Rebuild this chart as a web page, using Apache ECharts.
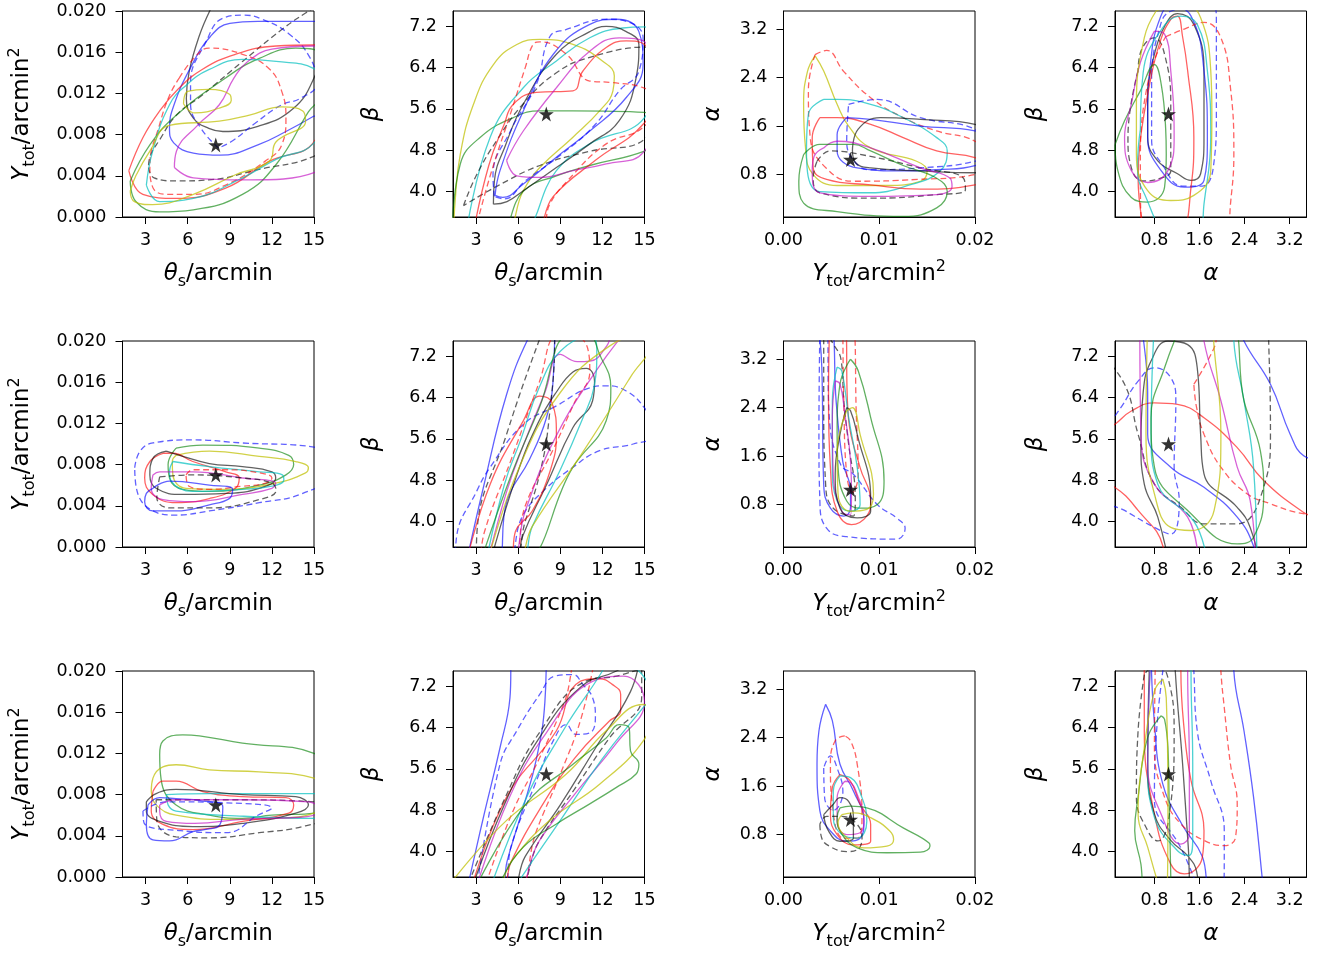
<!DOCTYPE html>
<html>
<head>
<meta charset="utf-8">
<script src="https://cdn.jsdelivr.net/npm/echarts@6/dist/echarts.min.js"></script>
<style>
  html, body { margin: 0; padding: 0; background: #fff; }
  #chart { width: 1325px; height: 956px; }
</style>
</head>
<body>
<div id="chart"></div>
<script>
// ---- tick values -------------------------------------------------------
const THETA_TICKS = [3, 6, 9, 12, 15];
const YTOT_TICKS_V = [0, 0.004, 0.008, 0.012, 0.016, 0.020];
const YTOT_TICKS_H = [0, 0.01, 0.02];
const BETA_TICKS = [4.0, 4.8, 5.6, 6.4, 7.2];
const ALPHA_TICKS = [0.8, 1.6, 2.4, 3.2];

// ---- true parameter values (star marker) -------------------------------
const TRUE_THETA = 8;
const TRUE_YTOT = 0.007;
const TRUE_BETA = 5.5;
const TRUE_ALPHA = 1.05;

// ---- credible-region contours, one entry per sample --------------------
// key: k/b/r/g/c/m/y colour, trailing "d" = dashed estimator
const ytotTheta1 = [
  ['k',  [[7.6,0.0201],[6.8,0.0175],[6.1,0.0141],[5.9,0.0115],[6.4,0.0096],[7.5,0.0086],[8.5,0.0083],[11,0.0088],[13.5,0.0105],[15,0.0135],[16,0.018],[15.5,0.023],[8,0.023]]],
  ['kd', [[3.2,0.0048],[3.6,0.0038],[5.2,0.0035],[7.5,0.0036],[11,0.0046],[15,0.0059],[17,0.008],[17,0.022],[14.4,0.0198],[12.7,0.0182],[9.9,0.0151],[7,0.0118],[5.2,0.0099],[4,0.0075],[3.3,0.0058]]],
  ['b',  [[15,0.0098],[13,0.0083],[11,0.007],[8.3,0.006],[6.4,0.0062],[5,0.0072],[4.7,0.0086],[5.0,0.0108],[6.2,0.0145],[7.6,0.0175],[9,0.0188],[11,0.019],[15,0.019],[17,0.017],[17,0.011]]],
  ['bd', [[8.2,0.0067],[7,0.0085],[6.2,0.011],[6.2,0.013],[7.3,0.017],[8.5,0.0193],[10,0.0196],[11.3,0.0192],[13.2,0.0178],[14.7,0.0155],[15.2,0.013],[14,0.0115],[12.7,0.0109],[10.8,0.0091],[9.2,0.0074]]],
  ['r',  [[1.8,0.0045],[2.8,0.0077],[4,0.0103],[5.3,0.0124],[7,0.0143],[9.4,0.0158],[12.3,0.0166],[15,0.0167],[16.5,0.014],[15,0.0073],[11.8,0.0054],[8.7,0.0028],[5.2,0.0018],[2.8,0.0022]]],
  ['rd', [[5.4,0.0135],[6.5,0.0155],[7.5,0.0164],[9.9,0.0158],[11.8,0.0144],[12.7,0.0122],[13,0.0096],[12.7,0.007],[11.5,0.0054],[8.7,0.0031],[6.4,0.0022],[4.5,0.0022],[3.5,0.0029],[3.3,0.005],[4,0.009],[4.7,0.0118]]],
  ['g',  [[1.9,0.0035],[3.3,0.007],[5.2,0.0099],[8.7,0.0135],[11.1,0.0154],[13.7,0.0164],[15.3,0.016],[15.5,0.012],[14.6,0.0102],[12.3,0.0051],[9.9,0.0022],[6.4,0.0007],[4,0.0005],[2.3,0.0015]]],
  ['c',  [[3.05,0.0031],[3.5,0.0064],[4.7,0.0109],[5.9,0.0128],[7.5,0.0143],[9.9,0.0153],[12.3,0.0151],[15,0.0144],[16.5,0.012],[15,0.0072],[12.3,0.0056],[9.9,0.0038],[6.4,0.0018],[4,0.0015]]],
  ['m',  [[5.05,0.0048],[5.2,0.0064],[6.7,0.0089],[8.25,0.0109],[9.3,0.0135],[10.2,0.015],[12,0.0163],[15,0.0166],[16.5,0.012],[15,0.0043],[9.9,0.0036],[6.4,0.0038]]],
  ['y',  [[5.7,0.011],[6,0.0122],[7.5,0.0124],[9.0,0.0119],[9.1,0.0113],[8.3,0.0106],[6.5,0.0101]]],
  ['y',  [[1.9,0.0025],[2.3,0.004],[3.3,0.0064],[4.7,0.0089],[8.25,0.0093],[10.4,0.0099],[12.7,0.0107],[14.2,0.0103],[14.4,0.0093],[12.3,0.0073],[11.8,0.0054],[9.4,0.0041],[6.4,0.0022],[3.5,0.0012],[2.2,0.0015]]]
];

const betaTheta1 = [
  ['y',  [[1.4,3.2],[1.5,3.8],[1.87,4.72],[2.81,5.69],[4.23,6.46],[5.9,6.85],[7.54,6.95],[9.9,6.85],[12.0,6.53],[12.85,6.24],[12.75,5.95],[11.8,5.56],[9.9,5.05],[7.54,4.46],[6.36,4.01],[4.9,3.2]]],
  ['g',  [[1.3,3.2],[1.87,4.53],[3.3,5.05],[5.65,5.43],[7.54,5.56],[9.9,5.56],[15,5.53],[16,5],[15,4.78],[11.1,4.5],[8.72,4.3],[6.36,4.0],[4.5,3.2]]],
  ['c',  [[2.3,3.2],[4,5.05],[6.36,6.01],[8.72,6.53],[11.1,6.98],[13.45,7.17],[15,7.19],[16,6.5],[15,5.43],[11.1,4.92],[8.72,4.4],[5.9,3.2]]],
  ['k',  [[4.23,3.75],[4.3,4.2],[5.1,4.9],[6.36,5.69],[8.72,6.66],[11.1,7.1],[12.27,7.2],[13.7,7.1],[14.6,6.85],[14.4,6.2],[13.2,5.37],[11.1,4.92],[8.72,4.46],[6.36,4.01],[5.2,3.8]]],
  ['kd', [[2.1,3.72],[3,4.3],[4.5,5.0],[6.36,5.7],[8.72,6.3],[11.1,6.6],[15,6.8],[16,6],[15,5.01],[11,4.77],[7.54,4.5],[4.5,4.1]]],
  ['b',  [[4.35,3.92],[4.7,4.4],[6.36,5.56],[8.5,6.66],[11.1,7.24],[13,7.34],[14.6,7.1],[14.9,6.46],[13.7,5.82],[11.1,5.17],[8.72,4.66],[6.36,4.14],[4.9,3.88]]],
  ['bd', [[4.3,3.9],[4.2,4.3],[5.5,5.2],[7.3,6.08],[8.25,7.0],[9.4,7.14],[12.3,7.34],[13.7,7.3],[14.9,6.98],[14.6,6.33],[13.2,5.95],[11.5,5.3],[9,4.7],[6.5,4.2],[5,3.85]]],
  ['r',  [[2.8,3.2],[3.9,4.5],[5.0,5.3],[5.65,5.69],[7.3,5.92],[9.9,5.95],[10.6,6.33],[12.27,6.79],[13.7,6.92],[15,6.85],[16,6],[14.9,5.3],[11.5,4.6],[8.5,3.9],[7,3.2]]],
  ['rd', [[2.9,3.2],[4,4.3],[5.5,5.55],[6.5,6.4],[7.06,6.85],[7.54,6.9],[9.43,6.66],[11.1,6.14],[12.7,6.11],[14.9,6.01],[16,5.8],[14.9,5.24],[12.27,4.92],[9.5,4.2],[8.25,3.75],[7.5,3.2]]],
  ['m',  [[5.17,4.6],[5.9,4.3],[7.54,4.27],[9.9,4.4],[12.27,4.53],[14.9,4.75],[16,5.8],[14.9,6.92],[13.2,6.98],[11.1,6.72],[8.72,6.01],[6.36,5.17]]]
];

const alphaYtot1 = [
  ['y',  [[0.0033,2.76],[0.0025,2.5],[0.0021,1.96],[0.0023,1.24],[0.0031,0.8],[0.0056,0.62],[0.0108,0.62],[0.0143,0.69],[0.015,0.86],[0.0139,1.02],[0.0091,1.24],[0.0068,1.6],[0.0056,1.96],[0.0042,2.51]]],
  ['rd', [[0.0033,2.78],[0.0045,2.85],[0.0063,2.5],[0.0091,2.07],[0.0125,1.74],[0.016,1.52],[0.02,1.35],[0.022,1.0],[0.02,0.8],[0.014,0.72],[0.0073,0.69],[0.0045,0.9],[0.0028,1.4],[0.0026,2.2]]],
  ['c',  [[0.0042,2.04],[0.0026,1.8],[0.0024,1.2],[0.0025,0.85],[0.0038,0.52],[0.0091,0.5],[0.013,0.62],[0.0163,0.85],[0.0171,1.19],[0.016,1.41],[0.0125,1.74],[0.0091,1.96],[0.0056,2.04]]],
  ['r',  [[0.0038,1.74],[0.003,1.41],[0.0031,0.91],[0.0045,0.72],[0.0091,0.63],[0.0143,0.56],[0.02,0.63],[0.022,0.9],[0.02,1.08],[0.016,1.19],[0.0125,1.41],[0.0091,1.63],[0.0056,1.74]]],
  ['b',  [[0.0066,1.74],[0.0056,1.46],[0.0056,1.19],[0.0077,0.91],[0.0125,0.86],[0.016,0.88],[0.02,0.95],[0.022,1.3],[0.02,1.52],[0.0143,1.6],[0.0091,1.71]]],
  ['bd', [[0.0068,1.96],[0.0098,2.04],[0.0143,1.74],[0.02,1.55],[0.022,1.2],[0.02,1.02],[0.0143,0.91],[0.0091,0.88],[0.0075,1.0],[0.0066,1.35]]],
  ['k',  [[0.0072,1.2],[0.0078,1.55],[0.0101,1.74],[0.0143,1.71],[0.02,1.63],[0.022,1.2],[0.02,0.83],[0.0143,0.86],[0.0091,0.91],[0.0075,1.0]]],
  ['kd', [[0.0035,1.02],[0.0049,1.19],[0.0091,1.1],[0.0143,0.91],[0.0188,0.74],[0.019,0.55],[0.016,0.47],[0.0091,0.41],[0.0038,0.5],[0.0031,0.75]]],
  ['m',  [[0.0042,1.24],[0.0056,1.35],[0.0091,1.24],[0.0143,0.91],[0.0174,0.74],[0.0176,0.6],[0.016,0.47],[0.0091,0.44],[0.0038,0.5],[0.003,0.86],[0.0032,1.1]]],
  ['g',  [[0.0021,1.13],[0.0038,1.3],[0.0073,1.3],[0.0091,1.19],[0.0125,0.95],[0.016,0.74],[0.0171,0.52],[0.016,0.25],[0.0125,0.11],[0.0056,0.19],[0.0021,0.33],[0.0016,0.69]]]
];

const betaAlpha1 = [
  ['k',  [[0.68,6.0],[0.68,5.05],[0.86,4.59],[1.21,4.34],[1.45,4.21],[1.62,4.34],[1.68,5.05],[1.68,6.34],[1.5,7.24],[1.21,7.45],[0.98,7.2],[0.8,6.66]]],
  ['kd', [[0.51,6.34],[0.33,5.05],[0.39,4.46],[0.6,4.2],[0.9,4.25],[1.09,4.4],[1.09,5.69],[0.98,6.66],[0.8,6.98],[0.56,6.72]]],
  ['b',  [[0.68,5.69],[0.68,5.05],[0.92,4.4],[1.33,4.08],[1.68,4.21],[1.74,5.05],[1.68,6.34],[1.45,7.4],[1.09,7.6],[0.86,7.24],[0.74,6.59]]],
  ['bd', [[0.75,6.3],[0.75,5.0],[0.95,4.5],[1.3,4.1],[1.65,4.1],[1.85,4.5],[1.9,5.5],[1.9,7.3],[1.85,7.6],[1.1,7.5],[0.85,7.0]]],
  ['r',  [[0.62,3.2],[0.51,4.27],[0.55,5.0],[0.7,6.0],[0.9,6.9],[1.1,7.35],[1.21,7.4],[1.3,7.0],[1.39,6.34],[1.5,5.05],[1.45,4.08],[1.21,3.2]]],
  ['rd', [[1.0,7.0],[1.33,7.15],[1.68,7.28],[1.98,6.98],[2.15,6.01],[2.21,4.72],[2.15,3.75],[2.08,3.2],[0.6,3.2],[0.55,4.5],[0.7,6.2]]],
  ['g',  [[0.1,4.9],[0.27,5.37],[0.55,5.95],[0.8,6.46],[0.92,6.08],[1.0,5.2],[1.01,4.72],[0.98,4.08],[0.68,3.79],[0.39,3.88],[0.15,4.4]]],
  ['m',  [[0.8,7.11],[0.55,6.5],[0.39,5.69],[0.27,5.05],[0.39,4.4],[0.68,4.17],[1.04,4.4],[1.15,5.05],[1.09,6.34],[0.98,7.05]]],
  ['c',  [[0.55,5.2],[0.6,6.3],[0.9,7.1],[1.27,7.4],[1.56,7.24],[1.74,6.34],[1.8,5.05],[1.68,3.75],[1.6,3.2],[1.1,3.2],[0.6,4.0],[0.5,4.5]]],
  ['y',  [[0.83,7.5],[0.62,6.98],[0.48,5.69],[0.48,4.72],[0.68,4.01],[1.09,3.82],[1.5,3.92],[1.8,4.4],[1.82,5.5],[1.8,6.34],[1.62,7.37],[1.33,7.65]]]
];

const ytotTheta2 = [
  ['bd', [[2.22,0.0077],[2.6,0.0093],[3.52,0.0101],[6.36,0.0104],[9.9,0.0101],[15,0.0097],[16,0.007],[14.2,0.0052],[11.1,0.0043],[7.54,0.0035],[5.17,0.0031],[3.52,0.0035],[2.34,0.0057]]],
  ['g',  [[5.17,0.0096],[7.07,0.0099],[11.1,0.0096],[13.2,0.0089],[13.55,0.008],[13,0.007],[11.1,0.006],[7.54,0.0054],[5.65,0.0056],[4.7,0.0067],[4.6,0.008]]],
  ['y',  [[5.17,0.0089],[7.54,0.0093],[11.1,0.0088],[13.7,0.0083],[14.6,0.0077],[14.4,0.0072],[12.27,0.0062],[8.72,0.0056],[5.88,0.0057],[4.94,0.007],[4.9,0.0083]]],
  ['r',  [[4.23,0.0091],[3.3,0.0083],[2.93,0.0067],[3.5,0.0051],[5.17,0.0043],[7.54,0.0047],[9.4,0.0057],[9.67,0.0067],[8.72,0.0073],[6.36,0.0083],[4.94,0.0091]]],
  ['k',  [[4.47,0.0093],[3.52,0.0086],[3.3,0.007],[3.75,0.0057],[5.65,0.0051],[8.72,0.0052],[11.1,0.0057],[12.27,0.0067],[12,0.0073],[9.9,0.0078],[7.54,0.0081],[5.65,0.0088]]],
  ['c',  [[4.94,0.0083],[7.54,0.0078],[11.1,0.0073],[12.75,0.007],[12.85,0.0065],[12,0.0059],[9.9,0.0056],[6.36,0.0054],[4.82,0.0064],[4.7,0.0073]]],
  ['m',  [[3.52,0.007],[4,0.0073],[6.36,0.0073],[9.9,0.0067],[12.27,0.0062],[12,0.0057],[9.9,0.0051],[6.36,0.0044],[4.23,0.0046],[3.4,0.0057]]],
  ['rd', [[5.88,0.007],[6.36,0.0075],[8.72,0.0075],[11.1,0.0072],[12,0.0067],[11.55,0.0062],[9.9,0.0059],[7.54,0.0056],[6.1,0.0059]]],
  ['b',  [[3.52,0.0057],[4.7,0.0064],[7.54,0.006],[9.2,0.0056],[8.96,0.0047],[7.54,0.0041],[5.17,0.0035],[3.52,0.0035],[2.93,0.0044],[3.05,0.0052]]],
  ['kd', [[4.0,0.0068],[6.36,0.007],[9.9,0.0067],[12,0.0062],[12.3,0.0055],[11.1,0.0046],[7.54,0.0038],[4.7,0.0038],[3.8,0.0048]]]
];

const betaTheta2 = [
  ['b',  [[2.3,3.2],[3.52,4.66],[5.17,6.46],[6.71,7.55],[7.5,7.8],[8.6,7.8],[8.5,6.8],[8.0,6.0],[6.8,5.2],[5.2,4.4],[4.45,3.2]]],
  ['bd', [[1.5,3.2],[1.6,3.69],[3.05,4.59],[4,5.05],[6.36,5.88],[8.72,6.24],[11.1,6.59],[12.27,6.63],[13.7,6.53],[15,6.2],[16,5.7],[14.2,5.5],[11.8,5.37],[9.9,5.05],[7.8,4.59],[6.3,4.1],[5,3.2]]],
  ['kd', [[3.0,3.2],[3.05,3.75],[5.17,5.69],[7.54,7.55],[8.0,7.8],[8.6,7.6],[8.2,6.0],[7.6,5.0],[6.5,4.0],[5.5,3.2]]],
  ['k',  [[4.0,3.2],[5.9,4.9],[7.4,5.9],[8.7,6.5],[9.9,6.9],[10.85,6.97],[11.44,6.72],[11.3,6.34],[9.9,5.82],[8.0,4.7],[6.3,3.7],[5.9,3.2]]],
  ['r',  [[2.3,3.2],[4,4.72],[6.36,5.95],[7.54,6.43],[8.4,6.3],[8.72,5.69],[8.3,5.0],[7,4.2],[5.8,3.8],[5.5,3.2]]],
  ['rd', [[3.3,3.2],[3.6,3.8],[5.5,5.2],[7.5,6.7],[8.8,7.6],[10.0,7.6],[11.0,7.3],[11.1,6.91],[10,6.3],[8.5,5.4],[6.5,4.3],[5.5,3.2]]],
  ['m',  [[3.8,3.2],[5.2,4.6],[6.4,5.5],[7.9,6.5],[9,7.24],[10.2,7.1],[11.1,7.11],[12.3,7.4],[13,7.8],[14,7.8],[11.5,6.9],[8.6,5.6],[6.5,4.2],[5.4,3.2]]],
  ['c',  [[3.7,3.2],[5.0,4.7],[6.2,5.6],[7.5,6.6],[9,7.3],[11.2,7.6],[11.6,7.3],[11.4,6.6],[10.6,6.0],[9,5.0],[7,3.9],[6.1,3.2]]],
  ['g',  [[3.3,3.2],[5.5,4.9],[7.5,6.2],[9.6,7.6],[11,7.6],[11.8,7.24],[12.6,6.6],[12.27,5.95],[9.9,5.05],[6.0,3.2]]],
  ['y',  [[3.8,3.2],[6,5.0],[9,6.5],[12.5,7.4],[14.9,7.6],[15.5,7.5],[14,6.8],[10.5,5.3],[7,3.9],[5.8,3.2]]]
];

const alphaYtot2 = [
  ['bd', [[0.0038,3.7],[0.0037,1.96],[0.0038,0.86],[0.0045,0.41],[0.0066,0.27],[0.0118,0.23],[0.0127,0.41],[0.0118,0.58],[0.0098,0.8],[0.0073,1.3],[0.006,1.45],[0.0048,2.2],[0.0045,3.7]]],
  ['b',  [[0.0037,3.7],[0.004,3.07],[0.0042,1.13],[0.0049,0.74],[0.0063,0.61],[0.007,0.75],[0.007,1.02],[0.0062,1.5],[0.0055,2.5],[0.005,3.7]]],
  ['kd', [[0.0042,3.7],[0.0042,2.51],[0.0044,1.13],[0.0052,0.74],[0.0073,0.61],[0.0075,0.9],[0.0068,1.8],[0.0063,2.51],[0.006,3.2],[0.0052,3.45]]],
  ['r',  [[0.0048,3.7],[0.0047,2.51],[0.0049,1.41],[0.0056,0.69],[0.0071,0.47],[0.0087,0.61],[0.0091,0.86],[0.008,1.41],[0.0068,2.2],[0.0064,3.7]]],
  ['rd', [[0.0062,3.7],[0.0063,2.5],[0.0066,1.3],[0.0072,1.0],[0.0078,1.3],[0.0076,2.3],[0.0073,3.7]]],
  ['g',  [[0.007,3.2],[0.0059,2.79],[0.0056,2.0],[0.0057,1.41],[0.0066,0.86],[0.008,0.74],[0.0098,0.8],[0.0105,1.19],[0.0091,2.24],[0.0078,3.01]]],
  ['c',  [[0.0056,3.07],[0.0051,2.51],[0.0051,1.41],[0.0056,0.86],[0.007,0.69],[0.008,0.8],[0.0077,1.41],[0.0068,2.24],[0.0061,3.0]]],
  ['m',  [[0.0054,2.84],[0.0051,2.24],[0.0052,1.3],[0.0061,0.69],[0.007,0.63],[0.0071,0.97],[0.007,1.52],[0.0064,2.3],[0.0059,2.79]]],
  ['k',  [[0.0066,2.4],[0.0059,1.96],[0.0054,1.3],[0.0059,0.74],[0.0077,0.58],[0.0091,0.69],[0.0091,0.91],[0.0077,1.96],[0.007,2.35]]],
  ['y',  [[0.0066,2.35],[0.0056,1.68],[0.0057,0.97],[0.007,0.69],[0.0087,0.72],[0.0094,0.97],[0.008,1.96],[0.0072,2.4]]]
];

const betaAlpha2 = [
  ['r',  [[-0.3,5.6],[0.094,5.88],[0.39,6.14],[0.8,6.3],[1.21,6.27],[1.68,6.01],[2.27,5.43],[2.74,4.79],[3.45,4.17],[3.9,3.9],[3.9,3.0],[1.0,3.0],[0.95,3.52],[0.51,4.21],[0.094,4.66],[-0.3,4.8]]],
  ['rd', [[1.5,6.66],[1.86,7.37],[2.0,7.9],[3.9,7.9],[3.9,4.1],[3.33,4.17],[2.86,4.34],[2.45,4.53],[1.98,5.05],[1.68,5.69],[1.55,6.2]]],
  ['b',  [[0.55,7.9],[0.68,6.5],[0.68,5.69],[1.09,5.05],[1.68,4.66],[2.27,4.08],[2.56,3.52],[2.65,3.0],[3.9,3.0],[3.9,5.1],[3.45,5.27],[3.21,5.69],[2.86,6.66],[2.39,7.5],[2.3,7.9]]],
  ['bd', [[-0.2,5.6],[0.2,6.2],[0.51,6.72],[0.8,6.98],[1.09,6.79],[1.18,6.34],[1.15,5.05],[1.24,4.4],[1.09,3.75],[0.8,3.88],[0.27,4.21],[-0.2,4.5]]],
  ['k',  [[1.09,3.0],[0.86,4.08],[0.62,4.72],[0.56,5.5],[0.6,6.5],[0.74,7.11],[1.04,7.5],[1.39,7.43],[1.56,6.98],[1.62,5.69],[1.68,4.92],[2.27,4.27],[2.5,3.88],[2.7,3.0]]],
  ['kd', [[-0.2,7.3],[0.27,6.66],[0.51,5.69],[0.8,4.72],[1.27,4.27],[1.68,3.95],[2.27,3.95],[2.74,4.66],[2.86,5.69],[2.83,7.43],[2.8,7.9],[-0.2,7.9]]],
  ['m',  [[0.54,7.9],[0.56,5.69],[0.8,4.72],[1.39,4.08],[1.8,3.0],[2.6,3.0],[2.5,4.4],[2.27,5.05],[1.98,6.34],[1.68,7.5],[1.65,7.9]]],
  ['c',  [[0.8,7.9],[0.74,5.69],[0.86,4.72],[1.5,4.0],[1.98,3.0],[2.62,3.0],[2.56,5.05],[2.39,6.34],[2.21,7.5],[2.2,7.9]]],
  ['g',  [[1.27,7.8],[0.98,6.98],[0.74,6.01],[0.8,5.05],[1.39,4.21],[2.27,3.56],[2.56,3.69],[2.74,4.53],[2.68,5.37],[2.39,6.34],[2.15,7.8]]],
  ['y',  [[0.68,7.9],[0.65,5.69],[0.8,4.53],[1.09,3.88],[1.45,3.82],[1.86,4.21],[1.98,5.69],[1.86,7.37],[1.8,7.9]]]
];

const ytotTheta3 = [
  ['g',  [[4.0,0.0119],[4.23,0.0132],[5.65,0.0138],[6.83,0.0137],[9.9,0.013],[15,0.012],[16,0.009],[15,0.0062],[12,0.006],[9.9,0.0057],[7.54,0.006],[5.17,0.007],[4.1,0.0095]]],
  ['y',  [[3.4,0.0083],[3.52,0.0096],[4.23,0.0107],[5.17,0.0109],[7.54,0.0104],[11.1,0.0102],[15,0.0096],[16,0.008],[15,0.0062],[12.27,0.0057],[8.72,0.0056],[5.17,0.006],[3.75,0.007]]],
  ['r',  [[3.52,0.0083],[4.23,0.0093],[5.17,0.0093],[7.07,0.0083],[9.9,0.0078],[13,0.0077],[13.55,0.007],[13.2,0.0062],[9.9,0.0054],[6.36,0.0046],[4.23,0.0051],[3.4,0.0064]]],
  ['c',  [[4.47,0.008],[7.54,0.0081],[15,0.0081],[16,0.007],[15,0.0057],[10,0.0059],[5.17,0.0064],[4.6,0.007]]],
  ['k',  [[3.05,0.0073],[3.75,0.0081],[5.17,0.0085],[9.9,0.008],[13.7,0.0078],[14.6,0.007],[13.7,0.0062],[9.9,0.0052],[6.36,0.0049],[4,0.0054],[3.05,0.0064]]],
  ['kd', [[3.75,0.0075],[9,0.0075],[15,0.0073],[16,0.006],[14.2,0.0049],[11.1,0.0043],[7.54,0.0038],[5.17,0.0039],[3.8,0.0055]]],
  ['b',  [[3.17,0.007],[4,0.0077],[5.17,0.0076],[7,0.0074],[8.5,0.0068],[8.3,0.0051],[7.2,0.0046],[6.36,0.0044],[4.7,0.0035],[3.52,0.0036],[3.05,0.0051]]],
  ['bd', [[2.81,0.0064],[4.5,0.0073],[8.72,0.0072],[12,0.0067],[11,0.006],[8.72,0.0043],[5.5,0.0045],[2.9,0.0052]]],
  ['m',  [[4,0.007],[5.17,0.0075],[9.9,0.0075],[14.6,0.0073],[15.5,0.0065],[14,0.0058],[9.9,0.0056],[6.5,0.0052],[4.47,0.0054],[4,0.0064]]]
];

const betaTheta3 = [
  ['b',  [[2.3,3.2],[3.52,4.66],[4.7,6.01],[5.41,6.98],[5.53,7.8],[8.0,7.8],[7.9,6.9],[7.3,5.8],[6.3,4.8],[5.2,3.8],[4.8,3.2]]],
  ['bd', [[3.0,3.2],[4.7,5.69],[5.9,6.34],[7.54,7.05],[8.6,7.4],[9.9,7.43],[10.6,7.24],[11.3,6.98],[11.5,6.6],[11.1,6.3],[10.1,6.27],[9.43,6.46],[8.6,6.2],[7.2,5.3],[5.5,4.1],[4.9,3.2]]],
  ['r',  [[2.57,3.2],[5.17,5.05],[8.72,6.34],[10.1,7.24],[11.8,7.35],[12.7,7.24],[13.3,7.05],[13.3,6.72],[12.5,6.53],[10,5.8],[7.5,4.8],[5.5,3.8],[4.7,3.2]]],
  ['rd', [[3.5,3.2],[5.5,4.7],[7.5,5.8],[9.3,6.9],[10.4,7.8],[11.5,7.8],[10.5,6.6],[9.0,5.5],[7.3,4.4],[5.8,3.2]]],
  ['k',  [[2.6,3.2],[5.0,4.9],[7.5,6.2],[10.5,7.2],[13.0,7.5],[14.7,7.8],[14.0,7.1],[11.5,6.0],[9,4.9],[6.5,3.9],[5.3,3.2]]],
  ['kd', [[2.2,3.2],[5.0,5.0],[7.5,6.3],[10.8,7.3],[13,7.4],[14.8,7.55],[14.8,7.0],[12.5,6.2],[10,5.2],[7.5,4.2],[5.6,3.2]]],
  ['m',  [[2.9,3.2],[5.3,5.0],[8,6.3],[11.3,7.3],[13.5,7.4],[15,6.9],[13,6.1],[10,5.1],[7.5,4.2],[5.6,3.2]]],
  ['c',  [[3.9,3.2],[6.6,5.05],[9.2,6.34],[12,7.5],[12.5,7.8],[15.5,7.0],[14.9,6.79],[12,5.8],[9,4.6],[6,3.4],[5.6,3.2]]],
  ['y',  [[1.39,3.45],[5.17,4.6],[9.43,5.5],[12.27,6.34],[14.9,6.85],[15.5,6.7],[14.9,6.14],[11.8,5.3],[8.25,4.6],[5.5,3.8],[4.2,3.2],[1.2,3.2]]],
  ['g',  [[2.8,3.2],[6.5,4.9],[9.9,5.69],[12.27,6.2],[13.2,6.46],[13.9,6.4],[14.0,5.95],[14.6,5.69],[14.4,5.5],[13,5.24],[11.1,4.92],[8.72,4.53],[6.36,4.08],[4.7,3.4],[4.5,3.2]]]
];

const alphaYtot3 = [
  ['b',  [[0.0044,2.95],[0.0037,2.51],[0.0035,1.96],[0.0038,1.19],[0.0049,0.86],[0.0066,0.69],[0.008,0.74],[0.0084,1.02],[0.0073,1.52],[0.0059,1.96],[0.0051,2.68]]],
  ['bd', [[0.0042,1.9],[0.0043,1.4],[0.0052,1.2],[0.0062,1.5],[0.0056,1.9],[0.0049,2.1]]],
  ['rd', [[0.0064,2.43],[0.0054,2.35],[0.0049,1.96],[0.0051,1.3],[0.0063,0.74],[0.0077,0.74],[0.0082,1.13],[0.0077,1.96],[0.007,2.35]]],
  ['r',  [[0.0059,1.79],[0.0051,1.57],[0.0049,1.13],[0.0056,0.8],[0.0073,0.63],[0.0091,0.69],[0.0091,0.97],[0.008,1.3],[0.007,1.68]]],
  ['c',  [[0.0059,1.77],[0.0052,1.52],[0.0052,1.08],[0.0061,0.8],[0.0077,0.74],[0.0087,1.02],[0.0082,1.41],[0.007,1.74]]],
  ['m',  [[0.0064,1.68],[0.0056,1.41],[0.0056,1.02],[0.0066,0.8],[0.008,0.83],[0.0084,1.08],[0.0077,1.46],[0.007,1.66]]],
  ['k',  [[0.0042,1.13],[0.0052,1.3],[0.0059,1.41],[0.0068,1.35],[0.0073,1.08],[0.0073,0.74],[0.0059,0.69],[0.0047,0.86]]],
  ['kd', [[0.0038,0.97],[0.004,0.74],[0.0049,0.6],[0.0066,0.52],[0.0077,0.55],[0.0082,0.75],[0.0075,1.0],[0.006,1.1],[0.0045,1.1]]],
  ['g',  [[0.0059,1.24],[0.007,1.27],[0.0087,1.24],[0.0125,0.91],[0.0152,0.66],[0.0153,0.61],[0.0143,0.51],[0.0108,0.5],[0.0077,0.58],[0.0059,0.86],[0.0056,1.08]]],
  ['y',  [[0.0061,1.13],[0.0073,1.16],[0.0091,1.08],[0.0111,0.86],[0.0115,0.72],[0.0108,0.61],[0.0084,0.58],[0.0063,0.8],[0.0057,1.0]]]
];

const betaAlpha3 = [
  ['b',  [[0.74,7.9],[0.8,6.5],[0.95,5.3],[1.3,4.5],[1.65,3.9],[1.85,3.0],[2.75,3.0],[2.71,3.52],[2.56,5.05],[2.39,6.34],[2.21,7.5],[2.2,7.9]]],
  ['bd', [[1.0,7.9],[0.85,6.5],[0.8,5.0],[1.2,4.2],[1.9,3.0],[2.0,3.0],[2.04,4.01],[2.04,4.4],[1.8,5.37],[1.56,6.34],[1.5,7.5],[1.48,7.9]]],
  ['rd', [[0.82,7.9],[0.8,6.01],[0.98,5.05],[1.27,4.53],[1.68,4.21],[2.04,4.11],[2.24,4.27],[2.27,4.92],[2.15,5.69],[2.04,6.79],[1.98,7.5],[1.97,7.9]]],
  ['r',  [[0.62,7.9],[0.62,6.34],[0.8,4.72],[1.09,3.75],[1.33,3.56],[1.65,3.88],[1.68,4.4],[1.45,5.37],[1.33,6.34],[1.27,7.5],[1.27,7.9]]],
  ['kd', [[0.62,7.43],[0.51,6.34],[0.48,5.05],[0.68,4.4],[0.86,4.2],[1.05,4.6],[1.15,6.34],[1.04,7.37],[0.85,7.65]]],
  ['k',  [[0.72,7.9],[0.68,5.7],[0.8,4.72],[1.09,4.21],[1.4,3.9],[1.55,3.6],[1.6,3.0],[1.48,3.0],[1.4,4.1],[1.3,5.7],[1.17,7.5],[1.16,7.9]]],
  ['c',  [[0.74,7.9],[0.68,5.69],[0.8,4.66],[1.21,4.01],[1.42,3.92],[1.48,4.27],[1.48,5.69],[1.45,7.5],[1.45,7.9]]],
  ['m',  [[0.74,7.9],[0.68,5.69],[0.92,4.72],[1.27,4.14],[1.42,4.33],[1.42,5.69],[1.39,7.5],[1.39,7.9]]],
  ['g',  [[0.92,6.63],[0.68,6.21],[0.51,5.05],[0.45,4.4],[0.56,3.75],[0.64,3.0],[1.1,3.0],[1.09,3.52],[1.06,5.05],[1.04,6.01],[0.98,6.56]]],
  ['y',  [[0.95,7.34],[0.8,7.11],[0.62,6.01],[0.51,4.72],[0.68,4.08],[0.86,3.4],[1.0,3.0],[1.04,5.05],[1.01,6.98]]]
];

// ---- styling -----------------------------------------------------------
const FONT = 'DejaVu Sans';
const DASH = [6, 3.5];
const SAMPLE_STYLE = {
  k:  { color: 'rgba(0,0,0,0.62)',     type: 'solid' },
  kd: { color: 'rgba(0,0,0,0.62)',     type: DASH },
  b:  { color: 'rgba(0,0,255,0.62)',   type: 'solid' },
  bd: { color: 'rgba(0,0,255,0.62)',   type: DASH },
  r:  { color: 'rgba(255,0,0,0.62)',   type: 'solid' },
  rd: { color: 'rgba(255,0,0,0.62)',   type: DASH },
  g:  { color: 'rgba(0,128,0,0.62)',   type: 'solid' },
  c:  { color: 'rgba(0,191,191,0.7)',  type: 'solid' },
  m:  { color: 'rgba(191,0,191,0.62)', type: 'solid' },
  y:  { color: 'rgba(191,191,0,0.72)', type: 'solid' }
};

const NAME_YTOT = '{i|Y}{sub|tot}{n|/arcmin}{sup|2}';
const NAME_THETA = '{i|θ}{sub|s}{n|/arcmin}';
const AXES = {
  theta: { min: 1.35, max: 15, ticks: THETA_TICKS, digits: 0, name: NAME_THETA },
  ytotV: { min: 0, max: 0.02, ticks: YTOT_TICKS_V, digits: 3, name: NAME_YTOT },
  ytotH: { min: 0, max: 0.02, ticks: YTOT_TICKS_H, digits: 2, name: NAME_YTOT },
  beta:  { min: 3.5, max: 7.5, ticks: BETA_TICKS, digits: 1, name: '{i|β}' },
  alpha: { min: 0.1, max: 3.5, ticks: ALPHA_TICKS, digits: 1, name: '{i|α}' }
};

const NAME_RICH = {
  i:   { fontFamily: FONT, fontStyle: 'italic', fontSize: 23, lineHeight: 31, color: '#000' },
  n:   { fontFamily: FONT, fontSize: 23, lineHeight: 31, color: '#000' },
  sub: { fontFamily: FONT, fontSize: 16, lineHeight: 16, verticalAlign: 'bottom', color: '#000' },
  sup: { fontFamily: FONT, fontSize: 16, lineHeight: 16, verticalAlign: 'top', color: '#000' }
};

// column layout: [x axis, y axis, y-name gap, truth x, truth y]
const COLUMNS = [
  ['theta', 'ytotV', 85, TRUE_THETA, TRUE_YTOT],
  ['theta', 'beta',  65, TRUE_THETA, TRUE_BETA],
  ['ytotH', 'alpha', 55, TRUE_YTOT, TRUE_ALPHA],
  ['alpha', 'beta',  63, TRUE_ALPHA, TRUE_BETA]
];
const ROWS = [
  [ytotTheta1, betaTheta1, alphaYtot1, betaAlpha1],
  [ytotTheta2, betaTheta2, alphaYtot2, betaAlpha2],
  [ytotTheta3, betaTheta3, alphaYtot3, betaAlpha3]
];
const GRID_LEFT = [122.5, 453, 783.5, 1115];
const GRID_TOP = [11, 341, 671];
const GRID_W = 191.5, GRID_H = 206;

const STAR = 'path://M50,0 L61.8,35.1 L98.1,35.1 L68.7,56.8 L79.4,91.9 L50,70.2 L20.6,91.9 L31.3,56.8 L1.9,35.1 L38.2,35.1 Z';

function axisOption(spec, isX, gap) {
  const fmt = v => Number(v).toFixed(spec.digits);
  return {
    type: 'value',
    min: spec.min,
    max: spec.max,
    name: spec.name,
    nameLocation: 'middle',
    nameGap: gap,
    nameRotate: isX ? 0 : 90,
    nameTextStyle: { rich: NAME_RICH },
    axisLine: { show: true, onZero: false, lineStyle: { color: '#000', width: 1 } },
    axisTick: { show: true, inside: false, length: 7, customValues: spec.ticks, lineStyle: { color: '#000', width: 1 } },
    axisLabel: { show: true, margin: isX ? 14 : 16, customValues: spec.ticks, formatter: fmt, color: '#000', fontSize: 17.5, fontFamily: FONT },
    splitLine: { show: false }
  };
}

const grids = [], xAxes = [], yAxes = [], series = [];
ROWS.forEach((row, ri) => {
  row.forEach((contours, ci) => {
    const [xKey, yKey, yGap, tx, ty] = COLUMNS[ci];
    const idx = grids.length;
    grids.push({
      left: GRID_LEFT[ci], top: GRID_TOP[ri], width: GRID_W, height: GRID_H,
      show: true, borderColor: '#000', borderWidth: 1, backgroundColor: '#fff'
    });
    xAxes.push(Object.assign(axisOption(AXES[xKey], true, 42), { gridIndex: idx }));
    yAxes.push(Object.assign(axisOption(AXES[yKey], false, yGap), { gridIndex: idx }));
    contours.forEach(([key, pts]) => {
      const st = SAMPLE_STYLE[key];
      series.push({
        type: 'line', xAxisIndex: idx, yAxisIndex: idx,
        data: pts.concat([pts[0]]),
        symbol: 'none', showSymbol: false, smooth: 0.45, clip: true, silent: true,
        lineStyle: { color: st.color, type: st.type, width: 1.3 },
        z: 2
      });
    });
    series.push({
      type: 'scatter', xAxisIndex: idx, yAxisIndex: idx,
      data: [[tx, ty]], symbol: STAR, symbolSize: 15,
      itemStyle: { color: '#000' }, silent: true, z: 5
    });
  });
});

const chart = echarts.init(document.getElementById('chart'), null, { renderer: 'canvas' });
chart.setOption({
  animation: false,
  backgroundColor: '#fff',
  textStyle: { fontFamily: FONT },
  grid: grids,
  xAxis: xAxes,
  yAxis: yAxes,
  series: series
});
</script>
</body>
</html>
